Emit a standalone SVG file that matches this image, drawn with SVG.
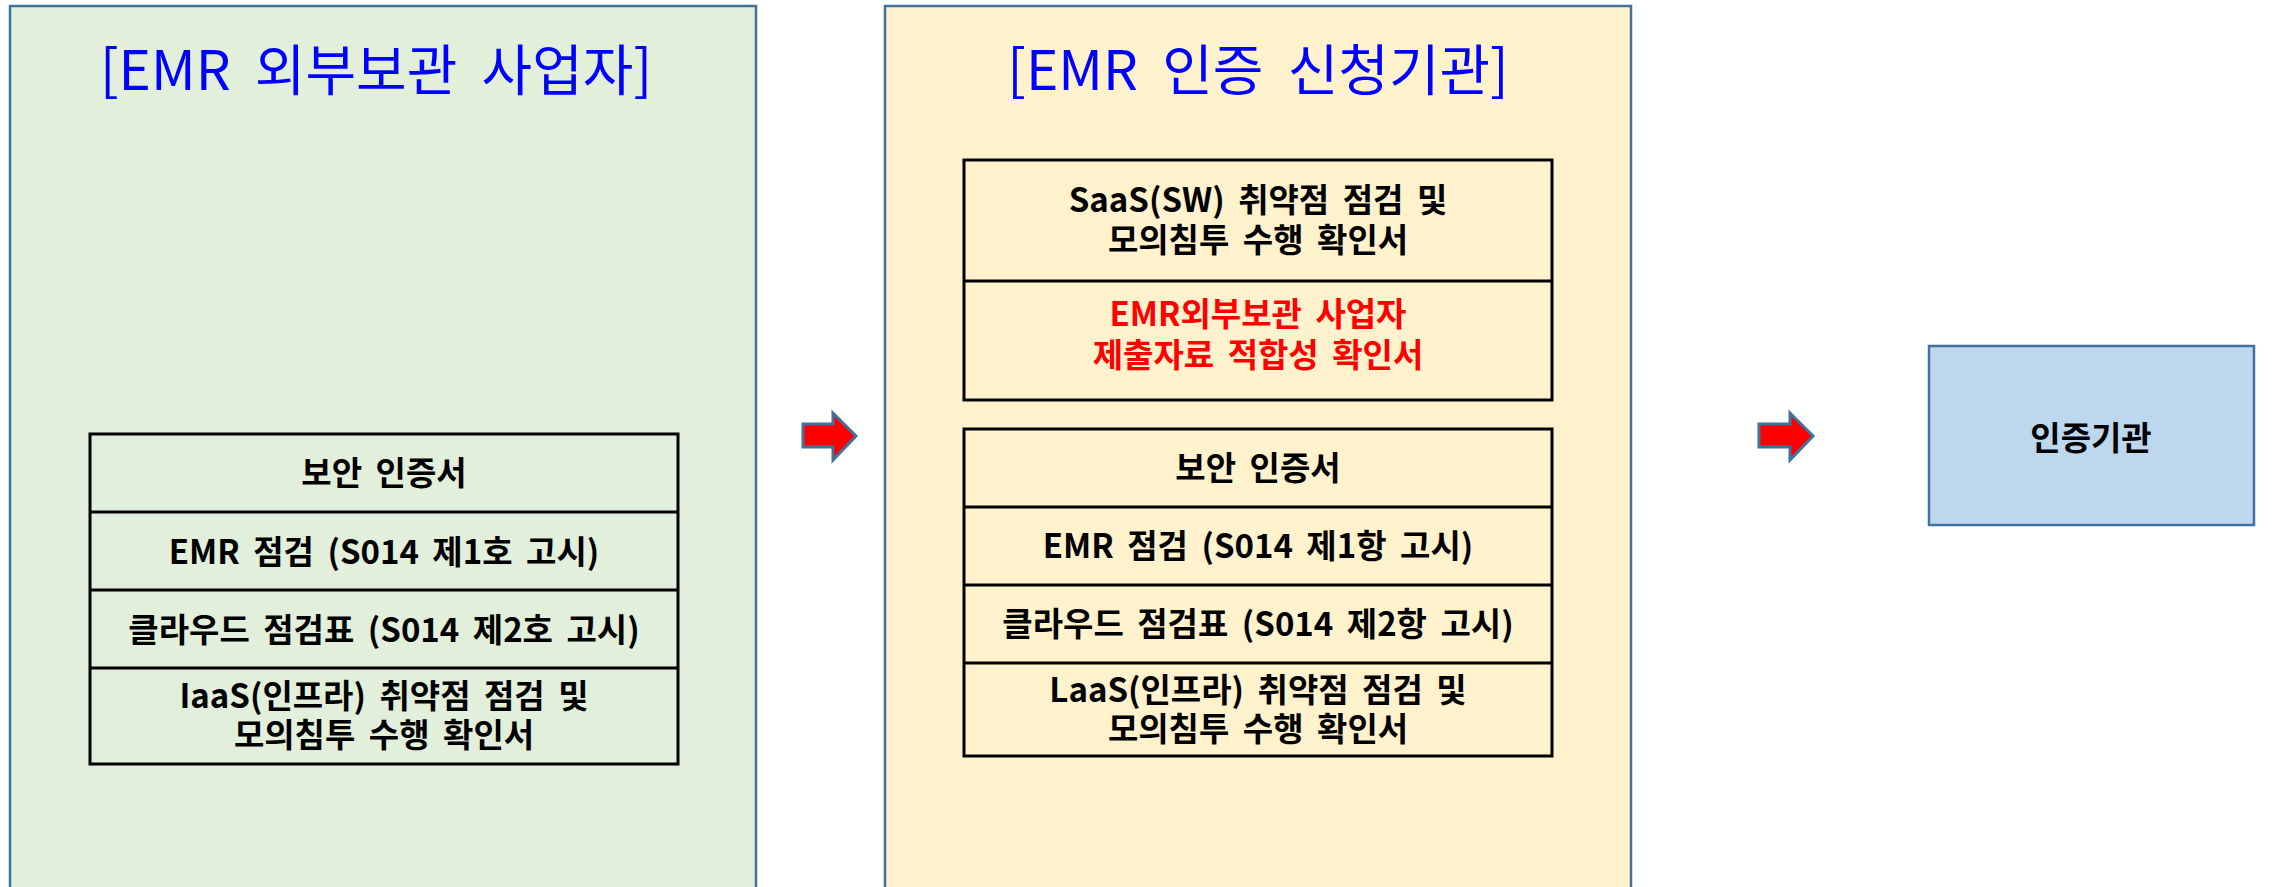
<svg xmlns="http://www.w3.org/2000/svg" width="2272" height="887" viewBox="0 0 2272 887">
<style>
.panel{stroke:#41719C;stroke-width:2.5}
.cell{fill:none;stroke:#000;stroke-width:3}
.title{font-family:"Noto Sans CJK KR","Noto Sans",sans-serif;font-size:55px;word-spacing:12px;fill:#0000FF;text-anchor:middle}
.t{font-family:"Noto Sans CJK KR","Noto Sans",sans-serif;font-size:33px;word-spacing:6px;font-weight:bold;fill:#000;text-anchor:middle}
.red{fill:#FF0000}
.arrow{fill:#FF0000;stroke:#41719C;stroke-width:3;stroke-linejoin:miter}
</style>
<rect width="2272" height="887" fill="#FFFFFF"/>
<g id="panel-left">
<rect class="panel" x="10" y="6" width="746" height="890" fill="#E2EFDA"/>
<text class="title" x="376" y="90">[EMR 외부보관 사업자]</text>
</g>
<g id="table-left">
<rect class="cell" x="90" y="434" width="588" height="330"/>
<line class="cell" x1="90" y1="512" x2="678" y2="512"/>
<line class="cell" x1="90" y1="590" x2="678" y2="590"/>
<line class="cell" x1="90" y1="668" x2="678" y2="668"/>
<text class="t" x="384" y="485">보안 인증서</text>
<text class="t" x="384" y="564">EMR 점검 (S014 제1호 고시)</text>
<text class="t" x="384" y="642">클라우드 점검표 (S014 제2호 고시)</text>
<text class="t" x="384" y="708">IaaS(인프라) 취약점 점검 및</text>
<text class="t" x="384" y="747">모의침투 수행 확인서</text>
</g>
<g id="panel-middle">
<rect class="panel" x="885" y="6" width="746" height="890" fill="#FFF2CC"/>
<text class="title" x="1258" y="90">[EMR 인증 신청기관]</text>
</g>
<g id="table-middle-top">
<rect class="cell" x="964" y="160" width="588" height="240"/>
<line class="cell" x1="964" y1="281" x2="1552" y2="281"/>
<text class="t" x="1258" y="212">SaaS(SW) 취약점 점검 및</text>
<text class="t" x="1258" y="252">모의침투 수행 확인서</text>
<text class="t red" x="1258" y="326">EMR외부보관 사업자</text>
<text class="t red" x="1258" y="367">제출자료 적합성 확인서</text>
</g>
<g id="table-middle-bottom">
<rect class="cell" x="964" y="429" width="588" height="327"/>
<line class="cell" x1="964" y1="507" x2="1552" y2="507"/>
<line class="cell" x1="964" y1="585" x2="1552" y2="585"/>
<line class="cell" x1="964" y1="663" x2="1552" y2="663"/>
<text class="t" x="1258" y="480">보안 인증서</text>
<text class="t" x="1258" y="558">EMR 점검 (S014 제1항 고시)</text>
<text class="t" x="1258" y="636">클라우드 점검표 (S014 제2항 고시)</text>
<text class="t" x="1258" y="702">LaaS(인프라) 취약점 점검 및</text>
<text class="t" x="1258" y="741">모의침투 수행 확인서</text>
</g>
<g id="node-cert">
<rect class="panel" x="1929" y="346" width="325" height="179" fill="#BDD7EE"/>
<text class="t" x="2091" y="450">인증기관</text>
</g>
<g id="connectors">
<polygon class="arrow" points="803,424 833,424 833,413 856,436 833,460 833,447 803,447"/>
<polygon class="arrow" points="1759,424 1790,424 1790,413 1813,436 1790,460 1790,447 1759,447"/>
</g>
</svg>
